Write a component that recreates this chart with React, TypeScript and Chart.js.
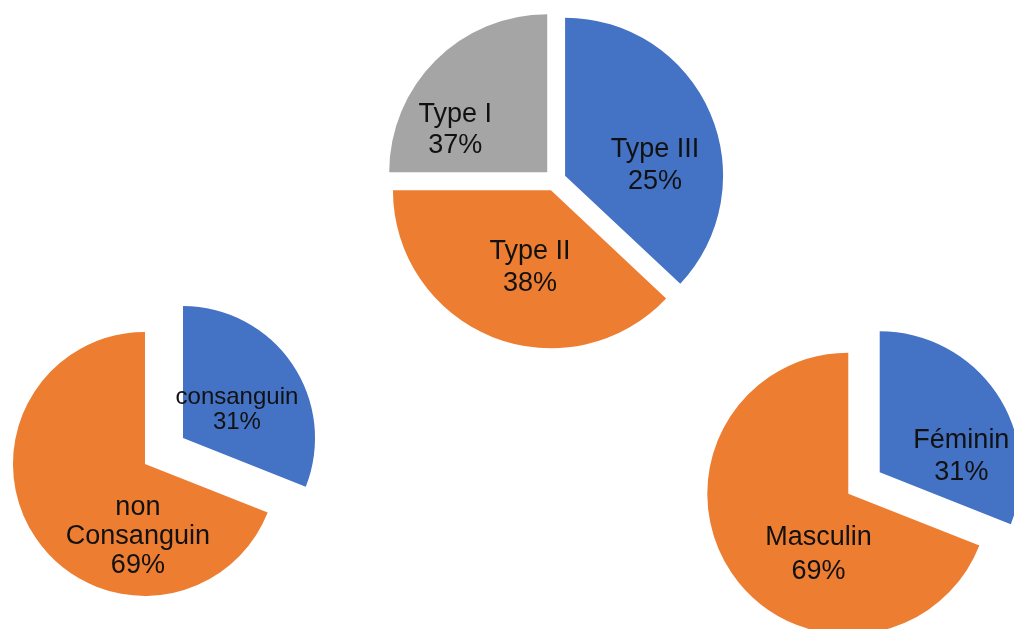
import React, { useEffect, useRef } from "react";
import { Chart, registerables } from "chart.js";

Chart.register(...registerables);

// ---- Data ----
// Pie 1 : types (slice sizes as drawn, percentage texts as printed on the chart)
const typeCategories = ["Type III", "Type II", "Type I"];
const typeValues = [37, 38, 25];
const typePercentTexts = ["25%", "38%", "37%"];

// Pie 2 : consanguinity
const consCategories = ["consanguin", "non Consanguin"];
const consValues = [31, 69];
const consPercentTexts = ["31%", "69%"];

// Pie 3 : sex
const sexCategories = ["Féminin", "Masculin"];
const sexValues = [31, 69];
const sexPercentTexts = ["31%", "69%"];

const BLUE = "#4472C4";
const ORANGE = "#ED7D31";
const GRAY = "#A5A5A5";

type PieSpec = {
  left: number;
  top: number;
  size: number;
  radius: number;
  explode: number;
  colors: string[];
  categories: string[];
  values: number[];
  percents: string[];
  fontSizes: number[];
  lineHeights: number[];
  polar: [number, number][];
  wrapWidth: number;
};

const specs: PieSpec[] = [
  {
    left: 375,
    top: 0,
    size: 360,
    radius: 158,
    explode: 11,
    colors: [BLUE, ORANGE, GRAY],
    categories: typeCategories,
    values: typeValues,
    percents: typePercentTexts,
    fontSizes: [27, 27, 27],
    lineHeights: [32, 32, 31],
    polar: [
      [83.7, 0.573],
      [195.3, 0.505],
      [294.5, 0.64],
    ],
    wrapWidth: 300,
  },
  {
    left: 4,
    top: 291,
    size: 320,
    radius: 132,
    explode: 23,
    colors: [BLUE, ORANGE],
    categories: consCategories,
    values: consValues,
    percents: consPercentTexts,
    fontSizes: [24, 27],
    lineHeights: [25, 29],
    polar: [
      [62.6, 0.46],
      [185.6, 0.55],
    ],
    wrapWidth: 170,
  },
  {
    left: 694,
    top: 313,
    size: 340,
    radius: 141,
    explode: 19,
    colors: [BLUE, ORANGE],
    categories: sexCategories,
    values: sexValues,
    percents: sexPercentTexts,
    fontSizes: [27, 27],
    lineHeights: [32, 34],
    polar: [
      [79, 0.59],
      [206.2, 0.48],
    ],
    wrapWidth: 300,
  },
];

function wrapText(ctx: CanvasRenderingContext2D, text: string, maxW: number): string[] {
  const words = text.split(" ");
  const lines: string[] = [];
  let cur = "";
  for (const w of words) {
    const test = cur ? cur + " " + w : w;
    if (cur && ctx.measureText(test).width > maxW) {
      lines.push(cur);
      cur = w;
    } else {
      cur = test;
    }
  }
  if (cur) lines.push(cur);
  return lines;
}

function PieChart({ spec }: { spec: PieSpec }) {
  const ref = useRef<HTMLCanvasElement | null>(null);

  useEffect(() => {
    if (!ref.current) return;

    const explodePlugin = {
      id: "explodeSlices",
      afterDatasetsUpdate(chart: any) {
        chart.getDatasetMeta(0).data.forEach((arc: any) => {
          const mid = (arc.startAngle + arc.endAngle) / 2;
          arc.x += Math.cos(mid) * spec.explode;
          arc.y += Math.sin(mid) * spec.explode;
        });
      },
    };

    const labelPlugin = {
      id: "sliceLabels",
      afterDatasetsDraw(chart: any) {
        const ctx: CanvasRenderingContext2D = chart.ctx;
        chart.getDatasetMeta(0).data.forEach((arc: any, i: number) => {
          const [deg, frac] = spec.polar[i];
          const a = (deg * Math.PI) / 180;
          const cx = arc.x + Math.sin(a) * frac * arc.outerRadius;
          const cy = arc.y - Math.cos(a) * frac * arc.outerRadius;
          const size = spec.fontSizes[i];
          const lh = spec.lineHeights[i];
          ctx.save();
          ctx.font = `${size}px "Liberation Sans", Arial, sans-serif`;
          ctx.fillStyle = "#111111";
          ctx.textAlign = "center";
          ctx.textBaseline = "middle";
          const lines = wrapText(ctx, String(chart.data.labels[i]), spec.wrapWidth).concat([
            spec.percents[i],
          ]);
          const y0 = cy - ((lines.length - 1) * lh) / 2;
          lines.forEach((l, k) => ctx.fillText(l, cx, y0 + k * lh));
          ctx.restore();
        });
      },
    };

    const chart = new Chart(ref.current, {
      type: "pie",
      data: {
        labels: spec.categories,
        datasets: [
          {
            data: spec.values,
            backgroundColor: spec.colors,
            borderWidth: 0,
            radius: spec.radius,
          } as any,
        ],
      },
      options: {
        animation: false,
        responsive: false,
        devicePixelRatio: 1,
        events: [],
        layout: { padding: 0 },
        plugins: {
          legend: { display: false },
          tooltip: { enabled: false },
          title: { display: false },
        },
      },
      plugins: [explodePlugin, labelPlugin],
    });

    return () => chart.destroy();
  }, [spec]);

  return (
    <canvas
      ref={ref}
      width={spec.size}
      height={spec.size}
      style={{
        position: "absolute",
        left: spec.left,
        top: spec.top,
        width: spec.size,
        height: spec.size,
      }}
    />
  );
}

export default function App() {
  return (
    <div
      style={{
        position: "absolute",
        left: 0,
        top: 0,
        width: 1014,
        height: 629,
        overflow: "hidden",
        background: "#ffffff",
      }}
    >
      {specs.map((s, i) => (
        <PieChart key={i} spec={s} />
      ))}
    </div>
  );
}
